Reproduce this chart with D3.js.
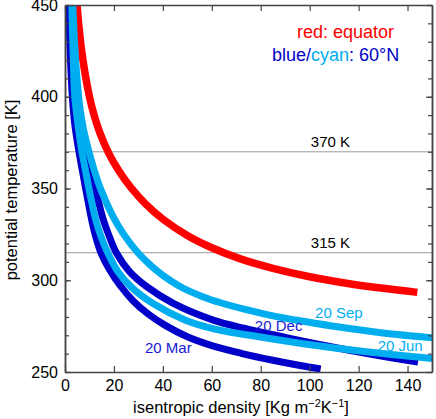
<!DOCTYPE html>
<html>
<head>
	<meta charset="utf-8">
	<title>isentropic density</title>
	<script src="https://d3js.org/d3.v7.min.js"></script>
	<style>
		body { margin: 0; background: #fff; }
		text { font-family: "Liberation Sans", Arial, Helvetica, sans-serif; }
	</style>
</head>
<body>
	<script type="text/javascript">

		// curves: [density, potential temperature]
		var equator = [[4.9,450],[6.8,425],[10,400],[12,389.5],[14.3,380.2],[18,368.9],[22,359.7],[27,350.4],[33,341.5],[40,333.3],[50,324.4],[60,317.7],[72,311.5],[85,306.5],[100,301.9],[115,298.4],[130,295.6],[144,293.4]];
		var mar = [[1.5,450],[2.1,425],[3.0,400],[4.0,385],[5.6,371],[7.2,359],[9.0,346],[10.9,333],[12.6,323.6],[14.8,314.7],[18.3,305.6],[22.6,297],[28,288.6],[34,281.6],[41,275.4],[50,269.2],[60,264.4],[72,260.2],[85,256.4],[95,253.8],[104.5,251.6]];
		var dec = [[2.5,450],[3.5,424.9],[4.9,399.9],[6.5,385.2],[8.6,371],[10.6,359],[13.1,345.9],[15.7,332.8],[18.2,323.6],[21.1,314.7],[26.2,305],[33.4,296.5],[44.3,287.4],[60.6,278.3],[73.6,273.7],[91.9,268.3],[112.4,262.8],[132.8,257.9],[144.3,255.4]];
		var jun = [[2.8,450],[3.3,425],[4.0,400],[5.3,385],[6.8,371],[8.5,359],[10.4,345.9],[12.6,332.8],[14.8,323.5],[17.6,314.6],[21.5,304.9],[27,296.4],[36,287.3],[49,278.4],[61.3,273.4],[75.6,270],[96,265.7],[120.6,261.4],[151.6,257.1]];
		var sep = [[3.2,450],[3.9,430],[4.9,410],[6,395],[7.6,382],[9.6,371],[12,359.7],[15,348.3],[19.6,334.8],[24,325],[29.8,315],[35,308.1],[40,302.7],[48,295.9],[56,291.2],[64,287.6],[74,284],[85,280.6],[98,277.5],[112,274.5],[130,271.3],[151.6,268.5]];

		var refLevels = [370, 315];
		var xTicks = [0, 20, 40, 60, 80, 100, 120, 140];
		var yTicks = [250, 300, 350, 400, 450];

		var width = 436, height = 419;
		var pLeft = 65, pRight = 432, pTop = 5, pBottom = 372;

		var red = "#ff0000", blue = "#0000c8", cyan = "#00aeef";

		var x = d3.scaleLinear().domain([0, 150]).range([pLeft, pRight]);
		var y = d3.scaleLinear().domain([250, 450]).range([pBottom, pTop]);

		var svg = d3.select("body").append("svg")
			.attr("width", width)
			.attr("height", height);

		svg.append("clipPath").attr("id", "plot")
			.append("rect")
			.attr("x", pLeft).attr("y", pTop)
			.attr("width", pRight - pLeft).attr("height", pBottom - pTop);

		// thin reference lines
		svg.selectAll("line.ref")
			.data(refLevels)
			.enter()
				.append("line")
				.attr("class", "ref")
				.attr("x1", pLeft).attr("x2", pRight)
				.attr("y1", function (d) { return y(d); })
				.attr("y2", function (d) { return y(d); })
				.attr("stroke", "#9a9a9a")
				.attr("stroke-width", 1);

		svg.selectAll("text.ref")
			.data(refLevels)
			.enter()
				.append("text")
				.attr("class", "ref")
				.attr("x", x(108.5))
				.attr("y", function (d) { return y(d) - 5; })
				.attr("text-anchor", "middle")
				.attr("font-size", 15)
				.text(function (d) { return d + " K"; });

		var line = d3.line()
			.x(function (d) { return x(d[0]); })
			.y(function (d) { return y(d[1]); })
			.curve(d3.curveCatmullRom.alpha(0.5));

		var curves = [
			{ pts: equator, color: red, w: 7.5 },
			{ pts: mar, color: blue, w: 7 },
			{ pts: dec, color: blue, w: 7 },
			{ pts: jun, color: cyan, w: 7 },
			{ pts: sep, color: cyan, w: 7 }
		];

		svg.append("g")
			.attr("clip-path", "url(#plot)")
			.selectAll("path")
			.data(curves)
			.enter()
				.append("path")
				.attr("d", function (d) { return line(d.pts); })
				.attr("fill", "none")
				.attr("stroke", function (d) { return d.color; })
				.attr("stroke-width", function (d) { return d.w; });

		// axes, all ticks pointing inwards
		var frame = "#444";

		var gBottom = svg.append("g")
			.attr("transform", "translate(0," + pBottom + ")")
			.call(d3.axisBottom(x).tickValues(xTicks).tickSize(-6).tickSizeOuter(0).tickPadding(8));
		gBottom.selectAll("text").attr("font-size", 16).attr("fill", "#000");

		svg.append("g")
			.attr("transform", "translate(0," + pTop + ")")
			.call(d3.axisTop(x).tickValues(xTicks).tickSize(-6).tickSizeOuter(0).tickFormat(""));

		var gLeft = svg.append("g")
			.attr("transform", "translate(" + pLeft + ",0)")
			.call(d3.axisLeft(y).tickValues(yTicks).tickSize(-6).tickSizeOuter(0).tickPadding(7));
		gLeft.selectAll("text").attr("font-size", 16).attr("fill", "#000");

		svg.append("g")
			.attr("transform", "translate(" + pLeft + ",0)")
			.call(d3.axisLeft(y).ticks(20).tickSize(-4).tickSizeOuter(0).tickFormat(""));

		svg.append("g")
			.attr("transform", "translate(" + pRight + ",0)")
			.call(d3.axisRight(y).ticks(20).tickSize(-4).tickSizeOuter(0).tickFormat(""));

		svg.append("g")
			.attr("transform", "translate(" + pRight + ",0)")
			.call(d3.axisRight(y).tickValues(yTicks).tickSize(-6).tickSizeOuter(0).tickFormat(""));

		svg.selectAll(".domain, .tick line")
			.attr("stroke", frame)
			.attr("stroke-width", 1.2);
		svg.selectAll(".domain").attr("stroke-width", 1.5);

		// axis titles
		var xt = svg.append("text")
			.attr("x", 241)
			.attr("y", 413)
			.attr("text-anchor", "middle")
			.attr("font-size", 16.5);
		xt.append("tspan").text("isentropic density [Kg m");
		xt.append("tspan").attr("dy", -6).attr("font-size", 11).text("\u22122");
		xt.append("tspan").attr("dy", 6).text("K");
		xt.append("tspan").attr("dy", -6).attr("font-size", 11).text("\u22121");
		xt.append("tspan").attr("dy", 6).text("]");

		svg.append("text")
			.attr("transform", "translate(17,190) rotate(-90)")
			.attr("text-anchor", "middle")
			.attr("font-size", 16.5)
			.text("potential temperature [K]");

		// legend
		svg.append("text")
			.attr("x", 297).attr("y", 38)
			.attr("font-size", 18)
			.attr("fill", red)
			.text("red: equator");

		var leg = svg.append("text")
			.attr("x", 272).attr("y", 61)
			.attr("font-size", 18);
		leg.append("tspan").attr("fill", blue).text("blue/");
		leg.append("tspan").attr("fill", cyan).text("cyan");
		leg.append("tspan").attr("fill", blue).text(": 60\u00b0N");

		// date labels on the curves
		var dateLabels = [
			{ t: "20 Sep", v: 102.2, T: 279.3, c: cyan },
			{ t: "20 Dec", v: 77.6, T: 272.5, c: "#1818d0" },
			{ t: "20 Jun", v: 127.8, T: 261.6, c: cyan },
			{ t: "20 Mar", v: 32.7, T: 260.4, c: "#1818d0" }
		];
		svg.selectAll("text.date")
			.data(dateLabels)
			.enter()
				.append("text")
				.attr("class", "date")
				.attr("x", function (d) { return x(d.v); })
				.attr("y", function (d) { return y(d.T); })
				.attr("font-size", 15)
				.attr("fill", function (d) { return d.c; })
				.text(function (d) { return d.t; });

	</script>
</body>
</html>
